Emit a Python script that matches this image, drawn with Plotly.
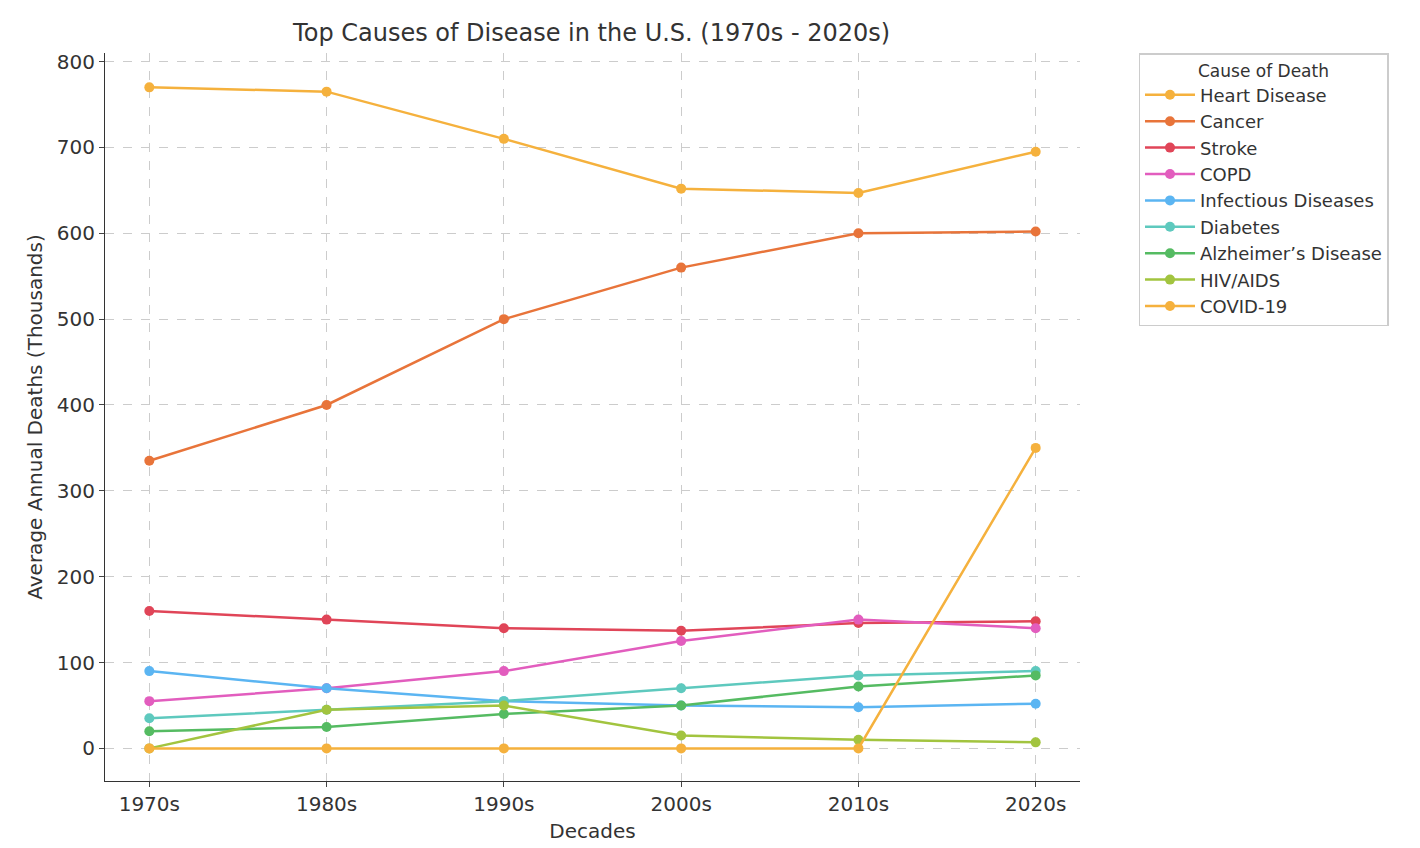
import plotly.graph_objects as go

decades = ["1970s", "1980s", "1990s", "2000s", "2010s", "2020s"]
heart = [770, 765, 710, 652, 647, 695]
cancer = [335, 400, 500, 560, 600, 602]
stroke = [160, 150, 140, 137, 146, 148]
copd = [55, 70, 90, 125, 150, 140]
infectious = [90, 70, 55, 50, 48, 52]
diabetes = [35, 45, 55, 70, 85, 90]
alzheimers = [20, 25, 40, 50, 72, 85]
hiv = [0, 45, 50, 15, 10, 7]
covid = [0, 0, 0, 0, 0, 350]

series = [
    ("Heart Disease", heart, "#F5B13D"),
    ("Cancer", cancer, "#E8743A"),
    ("Stroke", stroke, "#E04558"),
    ("COPD", copd, "#E25DBE"),
    ("Infectious Diseases", infectious, "#5BB5F2"),
    ("Diabetes", diabetes, "#5EC9BE"),
    ("Alzheimer’s Disease", alzheimers, "#55BB62"),
    ("HIV/AIDS", hiv, "#A2C43F"),
    ("COVID-19", covid, "#F5B13D"),
]

fig = go.Figure()
for name, vals, col in series:
    fig.add_trace(go.Scatter(x=list(range(len(decades))), y=vals, name=name, mode="lines+markers",
                             line=dict(color=col, width=2.5), marker=dict(color=col, size=10)))

fig.update_layout(
    width=1420, height=848, plot_bgcolor="white", paper_bgcolor="white",
    font=dict(family="DejaVu Sans", size=18, color="#333"),
    title=dict(text="Top Causes of Disease in the U.S. (1970s - 2020s)", x=0.411, xanchor="center",
               y=1 - 25 / 848, yanchor="middle", font=dict(size=24)),
    margin=dict(l=97, r=348, t=45, b=75, autoexpand=False),
    legend=dict(title=dict(text="Cause of Death", side="top center", font=dict(size=17)),
                font=dict(size=18), x=1.06, xanchor="left", y=1.0, yanchor="top",
                bordercolor="#ccc", borderwidth=1.5, tracegroupgap=0, itemwidth=50),
    xaxis=dict(title=dict(text="Decades", font=dict(size=20), standoff=8), tickmode="array",
               tickvals=list(range(len(decades))), ticktext=decades, range=[-0.25, 5.25],
               showgrid=True, gridcolor="#ccc", griddash="dash", showline=True, linecolor="#333",
               ticks="outside", zeroline=False, tickfont=dict(size=20), automargin=False),
    yaxis=dict(title=dict(text="Average Annual Deaths (Thousands)", font=dict(size=20), standoff=8),
               range=[-38, 810], tickvals=[0, 100, 200, 300, 400, 500, 600, 700, 800],
               showgrid=True, gridcolor="#ccc", griddash="dash", showline=True, linecolor="#333",
               ticks="outside", zeroline=False, tickfont=dict(size=20), automargin=False),
)
fig.write_html("out.html")
